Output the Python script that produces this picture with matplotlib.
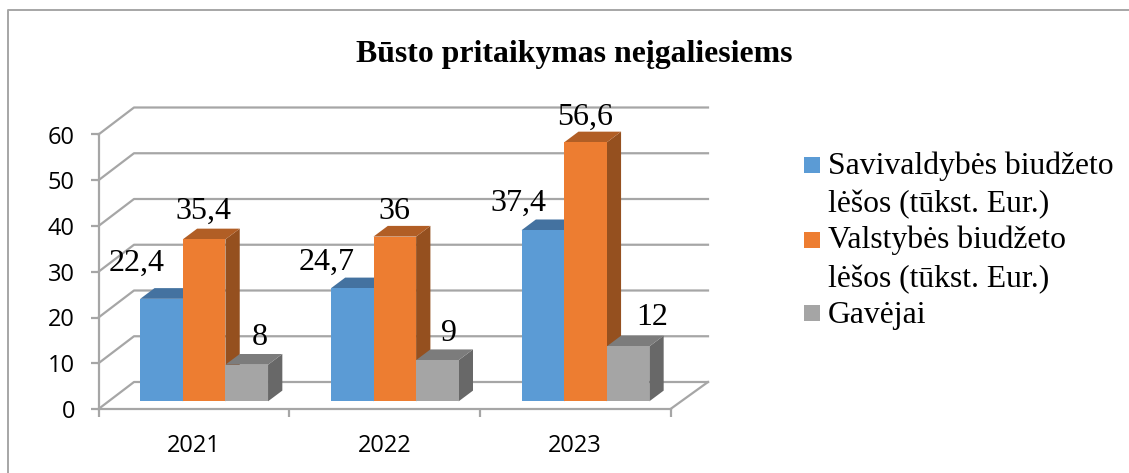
import matplotlib
matplotlib.use("Agg")
import matplotlib.pyplot as plt
from matplotlib.legend_handler import HandlerPatch
from matplotlib.lines import Line2D
from matplotlib.patches import Patch, Polygon, Rectangle

years = ["2021", "2022", "2023"]
savivaldybe = [22.4, 24.7, 37.4]
valstybe = [35.4, 36, 56.6]
gavejai = [8, 9, 12]
y_ticks = [0, 10, 20, 30, 40, 50, 60]
series_names = ["Savivaldybės biudžeto\nlėšos (tūkst. Eur.)", "Valstybės biudžeto\nlėšos (tūkst. Eur.)", "Gavėjai"]

W, H = 1129, 473
SERIF = "Liberation Serif"
GRID = "#a6a6a6"

# front, top, side colours of each series
colors = [("#5b9bd5", "#4472a0", "#3d6a91"),
          ("#ed7d31", "#b15e25", "#95501f"),
          ("#a5a5a5", "#7c7c7c", "#686868")]

# label offsets from the top of each bar, in pixels (placed by hand in the original)
label_offsets = [[(-25, 28), (-26, 18), (-24, 19)],
                 [(-1, 21), (0, 18), (0, 18)],
                 [(13, 20), (12, 19), (24, 21)]]

fig = plt.figure(figsize=(W / 100, H / 100), dpi=100)

# outer frame, only the left and top edges are visible
fig.add_artist(Line2D([7.5 / W, 7.5 / W, 1], [0, 1 - 10 / H, 1 - 10 / H], color=GRID, lw=1.4))

x0, x1, y0, y1 = 98.5, 670.5, 409, 134.5
ax = fig.add_axes([x0 / W, 1 - y0 / H, (x1 - x0) / W, (y0 - y1) / H])
ax.set_xlim(0, 3)
ax.set_ylim(0, 60)

px_x = (x1 - x0) / 3
px_y = (y0 - y1) / 60

# back wall and left wall grid
back_l = 35.5 / px_x
back_r = 37.5 / px_x
back_y = 27 / px_y
for v in y_ticks:
    ax.plot([0, back_l, 3 + back_r], [v, v + back_y, v + back_y], color=GRID, lw=1.6, clip_on=False, zorder=1)
# floor edge on the right
ax.plot([3, 3 + back_r], [0, back_y], color=GRID, lw=1.6, clip_on=False, zorder=1)

bar_w = 42.6 / px_x
shift_x = 10.3 / px_x
shift_y = 7.7 / px_y
depth_x = 14.3 / px_x
depth_y = 10.7 / px_y

all_series = [savivaldybe, valstybe, gavejai]
z = 3
for i in range(len(years)):
    for s, values in enumerate(all_series):
        v = values[i]
        left = i + 0.5 + (s - 1.5) * bar_w + shift_x
        right = left + bar_w
        top = v + shift_y
        front, top_c, side = colors[s]
        ax.add_patch(Polygon([(right, shift_y), (right + depth_x, shift_y + depth_y),
                              (right + depth_x, top + depth_y), (right, top)],
                             facecolor=side, edgecolor="none", clip_on=False, zorder=z))
        ax.add_patch(Polygon([(left, top), (left + depth_x, top + depth_y),
                              (right + depth_x, top + depth_y), (right, top)],
                             facecolor=top_c, edgecolor="none", clip_on=False, zorder=z))
        ax.bar(left, v, bar_w, bottom=shift_y, align="edge", color=front, clip_on=False, zorder=z)
        z += 1

# value labels go on last so the bars never cover them
for i in range(len(years)):
    for s, values in enumerate(all_series):
        v = values[i]
        cx = i + 0.5 + (s - 1) * bar_w + shift_x
        ax.annotate(str(v).replace(".", ","), xy=(cx, v + shift_y), xytext=label_offsets[s][i],
                    textcoords="offset pixels", ha="center", va="baseline",
                    family=SERIF, fontsize=23, color="black", zorder=50, annotation_clip=False)

for name in ["top", "right"]:
    ax.spines[name].set_visible(False)
for name in ["left", "bottom"]:
    ax.spines[name].set_color(GRID)
    ax.spines[name].set_linewidth(1.6)
    ax.spines[name].set_zorder(2)
ax.patch.set_visible(False)

ax.set_yticks(y_ticks)
ax.set_xticks([0, 1, 2, 3])
ax.set_xticklabels([])
ax.set_xticks([0.5, 1.5, 2.5], years, minor=True)
ax.tick_params(axis="y", length=6, width=1.6, color=GRID, pad=11, labelsize=17)
ax.tick_params(axis="x", which="major", length=6, width=1.6, color=GRID)
ax.tick_params(axis="x", which="minor", length=0, pad=18, labelsize=17)
for t in ax.get_yticklabels() + ax.get_xticklabels(minor=True):
    t.set_fontfamily("Open Sans")

fig.text(574.5 / W, 1 - 62 / H, "Būsto pritaikymas neįgaliesiems", family=SERIF, fontweight="bold",
         fontsize=22.9, ha="center", va="baseline")


def square(y_shift):
    # legend square sits on the first text line, not in the middle of the entry
    def make(legend, orig_handle, xdescent, ydescent, width, height, fontsize):
        return Rectangle((0, y_shift), 11.5, 11.5)
    return HandlerPatch(patch_func=make)


handles = [Patch(facecolor=c[0]) for c in colors]
leg = fig.legend(handles, series_names, loc="upper left", bbox_to_anchor=(804 / W, 1 - 151 / H),
                 frameon=False, prop={"family": SERIF, "size": 22.8}, handlelength=0.505,
                 handletextpad=0.25, labelspacing=0.2, borderpad=0, borderaxespad=0,
                 handler_map={handles[0]: square(17), handles[1]: square(17), handles[2]: square(1.5)})
for t in leg.get_texts():
    t.set_linespacing(1.44)

fig.savefig("out.png", dpi=100)
